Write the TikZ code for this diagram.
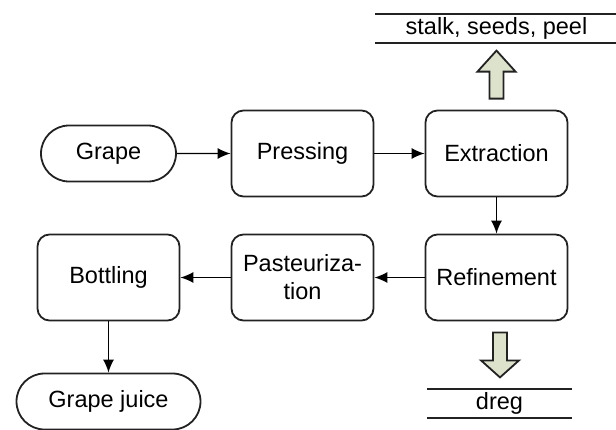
\documentclass[tikz,border=0pt]{standalone}
\usepackage{fontspec}
\setmainfont{Liberation Sans}
\usetikzlibrary{arrows.meta,calc,positioning,shapes.misc}
\definecolor{wastefill}{RGB}{221,226,205}
\definecolor{edge}{RGB}{34,34,34}
\tikzset{%
	process/.style  = {draw=edge, rectangle, rounded corners=6pt, line width=0.9pt, minimum width=71pt, minimum height=43pt, align=center, inner sep=2pt},
	terminal/.style = {draw=edge, rounded rectangle, line width=0.9pt, minimum width=71.5pt, minimum height=28pt, inner sep=2pt}, % start / end
	waste/.style    = {rectangle, minimum height=14pt, inner sep=0pt}, % by-product
	arrow/.style    = {line width=0.7pt, ->},
	bigarrow/.style = {draw=edge, line width=0.9pt, fill=wastefill, line join=miter},
}

\begin{document}
\begin{tikzpicture}[node distance=97pt,>={Latex[length=6.5pt,width=5.5pt]},font=\fontsize{11.75}{14}\selectfont]
		\useasboundingbox (-54.25pt,76.75pt) rectangle (253.75pt,-137.75pt);
		\node [terminal] (grape) {Grape};
		\node [process] (press) [right of=grape] {Pressing};
		\node [process] (extr) [right of=press] {Extraction};
		\node [process] (refine) [below of=extr,node distance=62pt] {Refinement};
		\node [process] (past) [left of=refine] {Pasteuriza-\\tion};
		\node [process] (bottle) [left of=past] {Bottling};
		\node [terminal,minimum width=96pt] (juice) [below of=bottle,node distance=62pt] {Grape juice};
		
		\node [waste,minimum width=121pt] (peel) [above of=extr,node distance=62.5pt] {stalk, seeds, peel};
		\node [waste,minimum width=72pt,xshift=1.5pt] (dreg) [below of=refine,node distance=63pt] {dreg};
		\draw[line width=0.8pt,edge] (peel.north west) -- (peel.north east) (peel.south west) -- (peel.south east);
		\draw[line width=0.8pt,edge] (dreg.north west) -- (dreg.north east) (dreg.south west) -- (dreg.south east);
		
		\draw[arrow] (grape) -- (press);
		\draw[arrow] (press) -- (extr);
		\draw[arrow] (extr) -- (refine);
		\draw[arrow] (refine) -- (past);
		\draw[arrow] (past) -- (bottle);
		\draw[arrow] (bottle) -- (juice);
		
		\draw[bigarrow] ($(extr.north)+(-3.5pt,5.5pt)$) -- ++(0,13.5pt) -- ++(-6pt,0) -- ++(9.5pt,10.5pt) -- ++(9.5pt,-10.5pt) -- ++(-6pt,0) -- ++(0,-13.5pt) -- cycle;
		\draw[bigarrow] ($(refine.south)+(-1.75pt,-5.5pt)$) -- ++(0,-14pt) -- ++(-6pt,0) -- ++(9.5pt,-8.5pt) -- ++(9.5pt,8.5pt) -- ++(-6pt,0) -- ++(0,14pt) -- cycle;
\end{tikzpicture}
\end{document}
